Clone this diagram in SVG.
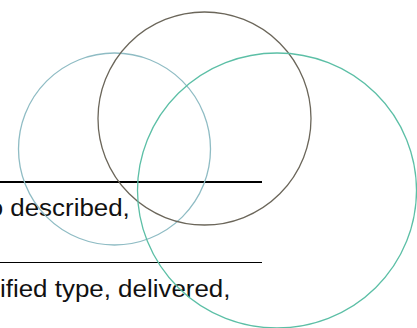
<svg xmlns="http://www.w3.org/2000/svg" width="417" height="328" viewBox="0 0 417 328">
<style>
.t{font-family:"Liberation Sans",Arial,sans-serif;font-size:24px;fill:#111}
.c{fill:none;stroke-width:1.3}
</style>
<rect width="417" height="328" fill="#fff"/>
<g id="rules">
<line x1="0" y1="182" x2="262" y2="182" stroke="#000" stroke-width="2"/>
<line x1="0" y1="262.5" x2="262" y2="262.5" stroke="#000" stroke-width="1.2"/>
</g>
<g id="text" transform="scale(1.08,1)">
<text class="t" x="-10.5" y="216">o described,</text>
<text class="t" x="0" y="297">ified type, delivered,</text>
</g>
<g id="circle-left"><circle class="c" cx="114.5" cy="149" r="96" stroke="#8fbcc4"/></g>
<g id="circle-top"><circle class="c" cx="204.5" cy="118.5" r="106.5" stroke="#6b665a"/></g>
<g id="circle-right"><ellipse class="c" cx="277" cy="190.5" rx="139.5" ry="137.5" stroke="#5cbfa6"/></g>
</svg>
